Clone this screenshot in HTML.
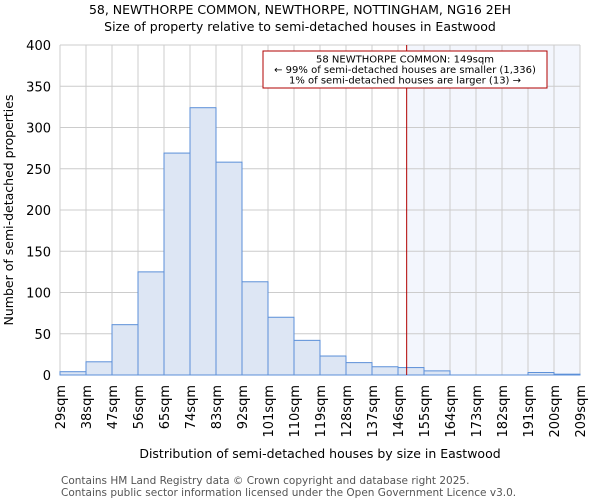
<!DOCTYPE html>
<html><head><meta charset="utf-8"><style>
body{margin:0;background:#fff;font-family:"DejaVu Sans","Liberation Sans",sans-serif}
</style></head><body>
<svg id="c" width="600" height="500" xmlns="http://www.w3.org/2000/svg" font-family="DejaVu Sans, Liberation Sans, sans-serif">
<text x="300" y="14" text-anchor="middle" font-size="12.5">58, NEWTHORPE COMMON, NEWTHORPE, NOTTINGHAM, NG16 2EH</text>
<text x="300" y="31" text-anchor="middle" font-size="12.5">Size of property relative to semi-detached houses in Eastwood</text>
<g id="grid"></g><g id="bars"></g><g id="axes"></g>
<text transform="translate(13,210) rotate(-90)" text-anchor="middle" font-size="12.5">Number of semi-detached properties</text>
<text x="320" y="458" text-anchor="middle" font-size="12.5">Distribution of semi-detached houses by size in Eastwood</text>
<text x="61" y="484" font-size="10.5" fill="#555">Contains HM Land Registry data © Crown copyright and database right 2025.</text>
<text x="61" y="496" font-size="10.5" fill="#555">Contains public sector information licensed under the Open Government Licence v3.0.</text>
</svg>
<script>
const binStarts=[29,38,47,56,65,74,83,92,101,110,119,128,137,146,155,164,173,182,191,200];
const counts=[4,16,61,125,269,324,258,113,70,42,23,15,10,9,5,0,0,0,3,1];
const yTicks=[0,50,100,150,200,250,300,350,400];
const xTickLabels=["29sqm","38sqm","47sqm","56sqm","65sqm","74sqm","83sqm","92sqm","101sqm","110sqm","119sqm","128sqm","137sqm","146sqm","155sqm","164sqm","173sqm","182sqm","191sqm","200sqm","209sqm"];
const propertySize=149;
const NS="http://www.w3.org/2000/svg";
const L=60,R=580,T=45,B=375,xmin=29,xmax=209,ymax=400;
const X=v=>L+(v-xmin)/(xmax-xmin)*(R-L);
const Y=v=>B-v/ymax*(B-T);
function mk(p,tag,a){const e=document.createElementNS(NS,tag);for(const k in a)e.setAttribute(k,a[k]);p.appendChild(e);return e;}
const grid=document.getElementById('grid'),bars=document.getElementById('bars'),axes=document.getElementById('axes');
const hl=mk(grid,'rect',{x:X(propertySize),y:T,width:R-X(propertySize),height:B-T,fill:'#f3f6fd'});


yTicks.forEach(t=>{
 const g=mk(grid,'line',{x1:L,x2:R,y1:Y(t),y2:Y(t),stroke:'#ccc'});
 
 
 const tx=mk(axes,'text',{x:L-9,y:Y(t)+5,'text-anchor':'end','font-size':'13'});
 tx.textContent=t;
 
 
});
xTickLabels.forEach((lab,i)=>{
 const v=xmin+i*9;
 const g=mk(grid,'line',{x1:X(v),x2:X(v),y1:T,y2:B,stroke:'#ccc'});
 
 
 const tx=mk(axes,'text',{transform:`translate(${X(v)+5},${B+10}) rotate(-90)`,'text-anchor':'end','font-size':'13'});
 tx.textContent=lab;
 
 
});
binStarts.forEach((s,i)=>{
 if(counts[i]<=0)return;
 const r=mk(bars,'rect',{x:X(s),y:Y(counts[i]),width:X(s+9)-X(s),height:B-Y(counts[i]),fill:'#dde6f4',stroke:'#5b8fd8','stroke-width':'1'});
 
 
});
const ax=mk(axes,'line',{x1:L,x2:R,y1:B,y2:B,stroke:'#5b8fd8'});


const ml=mk(axes,'line',{x1:X(propertySize),x2:X(propertySize),y1:T,y2:B,stroke:'#b00000','stroke-width':'1'});


const box=mk(axes,'rect',{x:263,y:51,width:284,height:37,fill:'#fff',stroke:'#b00000'});


["58 NEWTHORPE COMMON: 149sqm","← 99% of semi-detached houses are smaller (1,336)","1% of semi-detached houses are larger (13) →"].forEach((s,i)=>{
 const t=mk(axes,'text',{x:405,y:62.5+i*10.5,'text-anchor':'middle','font-size':'10'});
 t.textContent=s;
 
 
});
</script>
</body></html>
